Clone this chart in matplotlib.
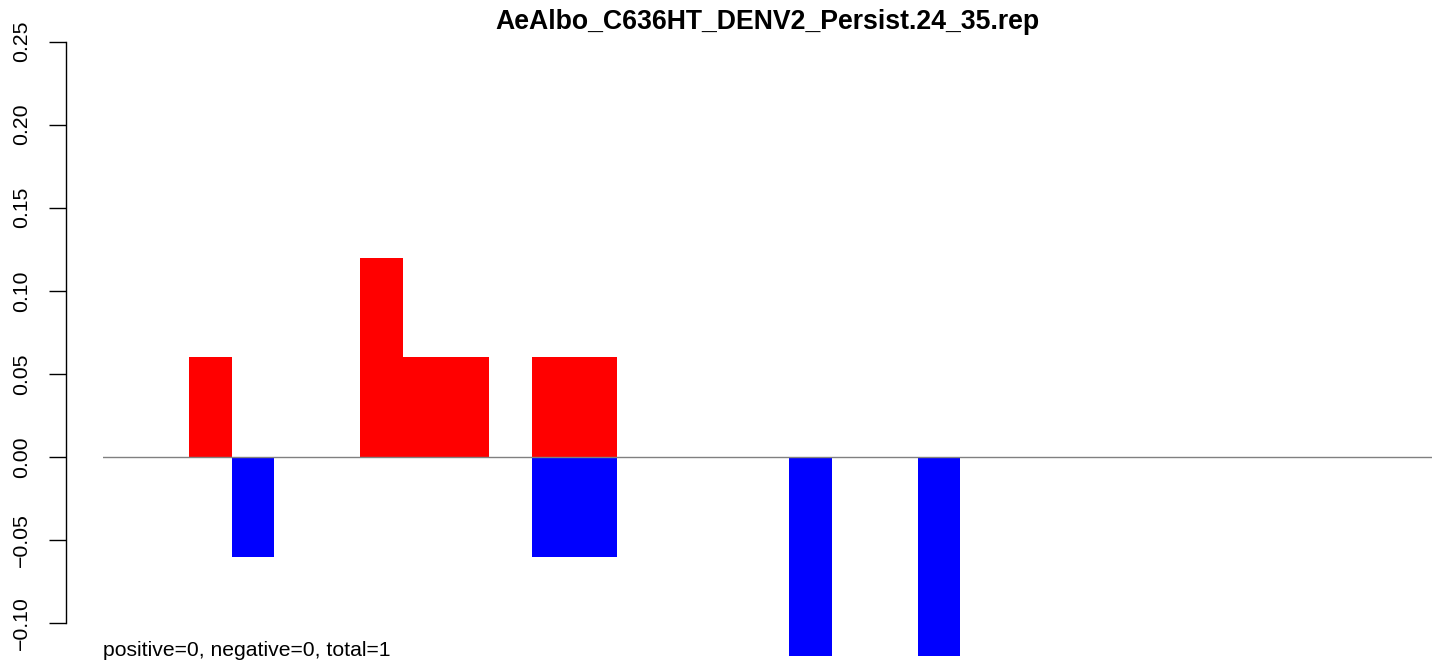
import numpy as np
import matplotlib
matplotlib.use("Agg")
import matplotlib.pyplot as plt

plt.rcParams['font.family'] = ['Liberation Sans', 'DejaVu Sans']

# one slot per read position, 31 slots
slots = np.arange(31)
pos_vals = np.zeros(31)
neg_vals = np.zeros(31)
pos_vals[[2, 6, 7, 8, 10, 11]] = [0.06, 0.12, 0.06, 0.06, 0.06, 0.06]
neg_vals[[3, 10, 11, 16, 19]] = [-0.06, -0.06, -0.06, -0.12, -0.12]

yticks = [-0.10, -0.05, 0.00, 0.05, 0.10, 0.15, 0.20, 0.25]
title = "AeAlbo_C636HT_DENV2_Persist.24_35.rep"
note = "positive=0, negative=0, total=1"

W, H = 1439, 664
fig = plt.figure(figsize=(W / 100, H / 100), dpi=100)

# axes placed in pixel terms
left, right = 103, 1432
ymin, ymax = -0.1248, 0.27
def ypix(v):
    return 457 - 1661.4 * v
top_px, bot_px = ypix(ymax), ypix(ymin)
ax = fig.add_axes([left / W, 1 - bot_px / H, (right - left) / W, (bot_px - top_px) / H])
ax.set_xlim(0, 31)
ax.set_ylim(ymin, ymax)

ax.bar(slots, pos_vals, width=1.0, align='edge', color='#ff0000', linewidth=0, clip_on=False)
ax.bar(slots, neg_vals, width=1.0, align='edge', color='#0000ff', linewidth=0, clip_on=False)
ax.axhline(0, color='#808080', linewidth=1.0, zorder=3)

for s in ['top', 'right', 'bottom']:
    ax.spines[s].set_visible(False)
ax.spines['left'].set_position(('outward', (left - 66) * 0.72))
ax.spines['left'].set_bounds(-0.10, 0.25)
ax.spines['left'].set_linewidth(1.0)
ax.set_xticks([])
ax.set_yticks(yticks)
labels = [("%.2f" % v).replace("-", "\u2212") if abs(v) > 1e-9 else "0.00" for v in yticks]
ax.set_yticklabels(labels, rotation=90, va='center', fontsize=15.3)
ax.tick_params(axis='y', length=12, width=1.0, pad=13)

fig.text((left + right) / 2 / W, 1 - 22 / H, title, ha='center', va='center',
         fontsize=19.2, fontweight='bold')
fig.text(left / W, 1 - 650 / H, note, ha='left', va='center', fontsize=15.2)

fig.savefig("out.png", dpi=100)
